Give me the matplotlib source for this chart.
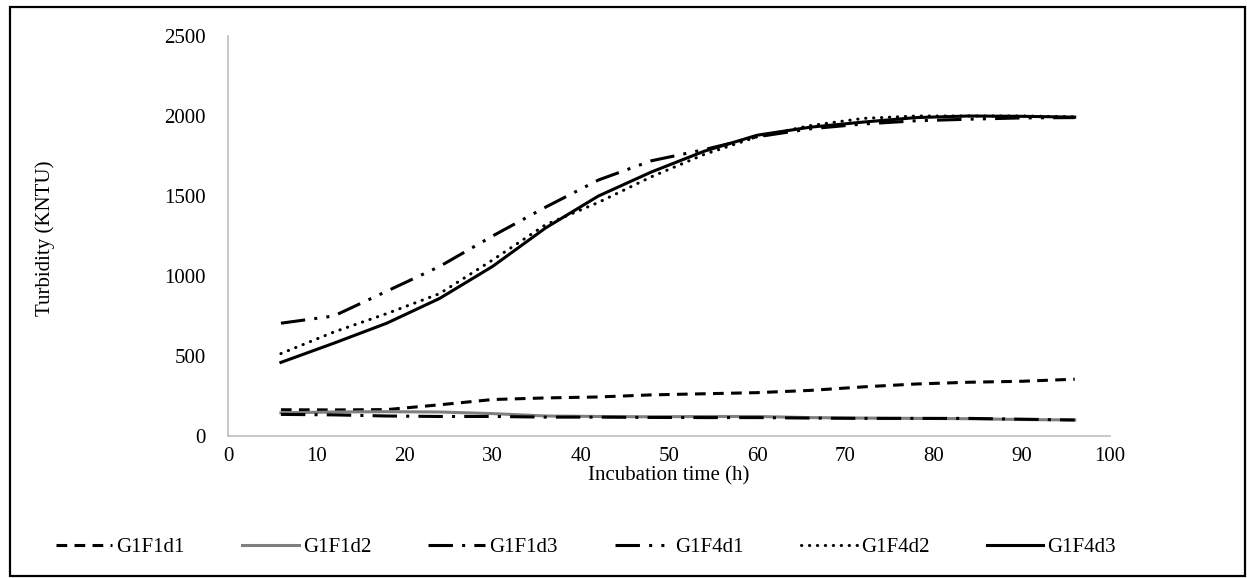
import matplotlib
matplotlib.use("Agg")
import matplotlib.pyplot as plt
from matplotlib.patches import Rectangle

plt.rcParams['font.family'] = ['Liberation Serif', 'DejaVu Serif']

# incubation times (h)
hours = [6, 12, 18, 24, 30, 36, 42, 48, 54, 60, 66, 72, 78, 84, 90, 96]

# turbidity readings (KNTU)
g1f1d1 = [164, 163, 165, 195, 228, 238, 244, 257, 264, 271, 285, 307, 325, 336, 342, 355]
g1f1d2 = [145, 150, 152, 150, 140, 125, 122, 120, 122, 122, 115, 112, 110, 108, 103, 100]
g1f1d3 = [135, 132, 125, 122, 122, 118, 118, 116, 115, 115, 112, 110, 110, 110, 105, 100]
g1f4d1 = [705, 750, 905, 1060, 1250, 1430, 1600, 1720, 1790, 1870, 1920, 1950, 1970, 1980, 1988, 1990]
g1f4d2 = [515, 650, 765, 890, 1100, 1320, 1460, 1620, 1760, 1870, 1940, 1985, 2000, 2000, 2000, 1995]
g1f4d3 = [460, 580, 705, 860, 1060, 1300, 1500, 1650, 1780, 1880, 1930, 1962, 1990, 2000, 1998, 1993]

x_ticks = [0, 10, 20, 30, 40, 50, 60, 70, 80, 90, 100]
y_ticks = [0, 500, 1000, 1500, 2000, 2500]

fig = plt.figure(figsize=(12.47, 5.78), dpi=100)
ax = fig.add_axes([228 / 1247, 1 - 436 / 578, (1110 - 228) / 1247, 400 / 578])

lw = 2.2
ax.plot(hours, g1f1d1, color='black', lw=lw, linestyle=(0, (3.5, 2.4)), label='G1F1d1')
ax.plot(hours, g1f1d2, color='#7f7f7f', lw=lw, linestyle='-', label='G1F1d2')
ax.plot(hours, g1f1d3, color='black', lw=lw, linestyle=(0, (8, 3, 1, 3)), label='G1F1d3')
ax.plot(hours, g1f4d1, color='black', lw=lw, linestyle=(0, (8, 3, 1, 3, 1, 3)), label='G1F4d1')
ax.plot(hours, g1f4d2, color='black', lw=lw, linestyle=(0, (0.1, 2.5)),
        dash_capstyle='round', label='G1F4d2')
ax.plot(hours, g1f4d3, color='black', lw=lw, linestyle='-', label='G1F4d3')

ax.set_xlim(0, 100)
ax.set_ylim(0, 2500)
ax.set_xticks(x_ticks)
ax.set_yticks(y_ticks)
ax.tick_params(length=0, labelsize=15)
ax.tick_params(axis='y', pad=16)
ax.tick_params(axis='x', pad=8)
for side in ['top', 'right']:
    ax.spines[side].set_visible(False)
for side in ['left', 'bottom']:
    ax.spines[side].set_color('#bfbfbf')
    ax.spines[side].set_linewidth(1.2)

ax.set_xlabel('Incubation time (h)', fontsize=15, labelpad=0)
ax.set_ylabel('Turbidity (KNTU)', fontsize=15)
ax.yaxis.set_label_coords((55 - 228) / 882, 0.495)

fig.legend(loc='center', bbox_to_anchor=(0.47, 1 - 547 / 578), ncol=6, frameon=False,
           fontsize=15, handlelength=2.7, handletextpad=0.2, columnspacing=2.75)

# chart area border
fig.patches.append(Rectangle((10 / 1247, 2 / 578), 1235 / 1247, 569 / 578,
                             transform=fig.transFigure, fill=False,
                             edgecolor='black', lw=1.6))

fig.savefig('out.png', dpi=100)
